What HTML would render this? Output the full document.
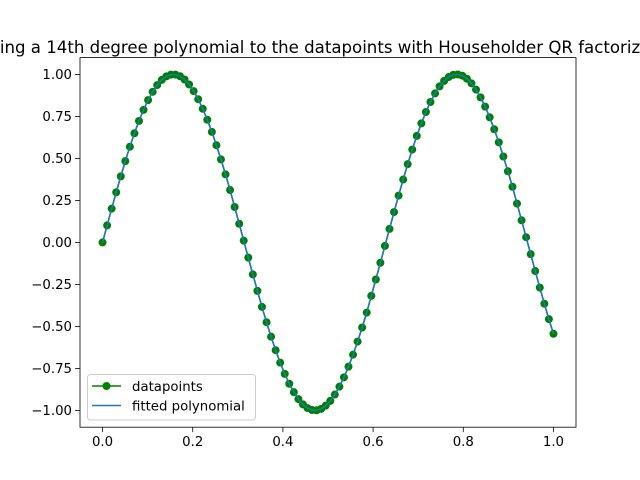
<!DOCTYPE html>
<html><head><meta charset="utf-8"><style>
body{margin:0;background:#fff;}
svg{display:block;font-family:"DejaVu Sans","Liberation Sans",sans-serif;}
</style></head><body>
<svg id="chart" width="640" height="480" viewBox="0 0 640 480">
<rect width="640" height="480" fill="#fff"/>
<text x="328" y="53" text-anchor="middle" font-size="16.6">Fitting a 14th degree polynomial to the datapoints with Householder QR factorization</text>
<g id="plot"></g>
</svg>
<script>
const yData=[0,0.101,0.2007,0.2984,0.3931,0.4838,0.5696,0.6496,0.7229,0.7888,0.8468,0.8961,0.9364,0.9671,0.9879,0.9985,0.999,0.9893,0.9696,0.94,0.9008,0.8523,0.7952,0.7301,0.6577,0.5786,0.4941,0.4048,0.3118,0.2107,0.1111,0.0103,-0.0906,-0.1906,-0.2886,-0.3837,-0.475,-0.561,-0.6418,-0.7158,-0.7826,-0.8414,-0.8915,-0.9327,-0.9643,-0.9862,-0.9978,-0.9994,-0.9907,-0.9718,-0.9436,-0.9057,-0.8588,-0.8032,-0.7395,-0.6682,-0.5903,-0.5066,-0.4179,-0.318,-0.2208,-0.1213,-0.0206,0.0803,0.1804,0.2787,0.3742,0.4658,0.5525,0.6339,0.7085,0.7761,0.8357,0.8868,0.9288,0.9615,0.9843,0.9971,0.9997,0.9921,0.9744,0.9467,0.9095,0.8632,0.8082,0.7446,0.6732,0.5956,0.5113,0.4233,0.3312,0.2309,0.1315,0.0309,-0.0701,-0.1704,-0.269,-0.3649,-0.4569,-0.544];
const fitY=yData.slice();
const xTicks=[0,0.2,0.4,0.6,0.8,1.0];
const xTickLabels=["0.0","0.2","0.4","0.6","0.8","1.0"];
const yTicks=[1,0.75,0.5,0.25,0,-0.25,-0.5,-0.75,-1];
const yTickLabels=["1.00","0.75","0.50","0.25","0.00","−0.25","−0.50","−0.75","−1.00"];

const L=80,R=576,T=57.6,B=427.2;
const sx=v=>L+(v+0.05)/1.1*(R-L);
const sy=v=>B-(v+1.1)/2.2*(B-T);
const NS="http://www.w3.org/2000/svg";
const g=document.getElementById('plot');
function mk(tag,attrs,parent){const e=document.createElementNS(NS,tag);for(const k in attrs)e.setAttribute(k,attrs[k]);(parent||g).appendChild(e);return e;}
const n=yData.length;
const xs=yData.map((_,i)=>i/(n-1));

xTicks.forEach((t,i)=>{
  const tk=mk('line',{x1:sx(t),x2:sx(t),y1:B,y2:B+4.9,stroke:'#000','stroke-width':0.8});
  
  
  const lb=mk('text',{x:sx(t),y:B+19,'text-anchor':'middle','font-size':13.3});
  lb.textContent=xTickLabels[i];
  
  
});
yTicks.forEach((t,i)=>{
  const tk=mk('line',{x1:L-4.9,x2:L,y1:sy(t),y2:sy(t),stroke:'#000','stroke-width':0.8});
  
  
  const lb=mk('text',{x:L-8,y:sy(t)+4.8,'text-anchor':'end','font-size':13.3});
  lb.textContent=yTickLabels[i];
  
  
});

const dl=mk('polyline',{points:xs.map((x,i)=>sx(x)+','+sy(yData[i])).join(' '),fill:'none',stroke:'green','stroke-width':1.5});


xs.forEach((x,i)=>{
  const c=mk('circle',{cx:sx(x),cy:sy(yData[i]),r:4,fill:'green'});
  
  
});
const fl=mk('polyline',{points:xs.map((x,i)=>sx(x)+','+sy(fitY[i])).join(' '),fill:'none',stroke:'#1f77b4','stroke-width':1.5});



const fr=mk('rect',{x:L,y:T,width:R-L,height:B-T,fill:'none',stroke:'#000','stroke-width':0.8});



const lg=mk('g',{});


mk('rect',{x:87.5,y:374.5,width:168,height:45.5,rx:3,fill:'#fff','fill-opacity':0.8,stroke:'#ccc','stroke-width':1},lg);
mk('line',{x1:92,x2:121,y1:386,y2:386,stroke:'green','stroke-width':1.5},lg);
mk('circle',{cx:106.5,cy:386,r:4,fill:'green'},lg);
const t1=mk('text',{x:132,y:391,'font-size':13.3},lg);t1.textContent='datapoints';


mk('line',{x1:92,x2:121,y1:405.5,y2:405.5,stroke:'#1f77b4','stroke-width':1.5},lg);
const t2=mk('text',{x:132,y:410.5,'font-size':13.3},lg);t2.textContent='fitted polynomial';


</script>
</body></html>
